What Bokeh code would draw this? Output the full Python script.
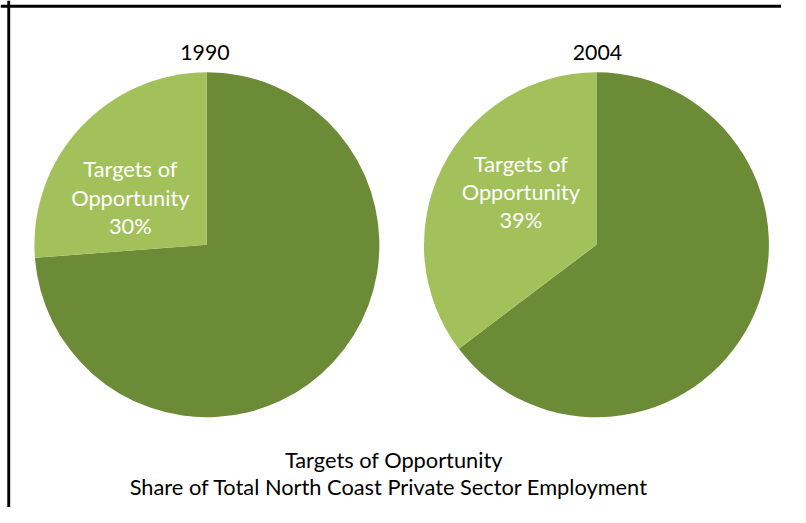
from math import pi
from bokeh.plotting import figure
from bokeh.models import Range1d, Span
from bokeh.core.properties import value
from bokeh.embed import file_html
from bokeh.resources import INLINE

# ---- data ----
years = ["1990", "2004"]
target_share = [0.262, 0.353]          # share drawn as the light "Targets of Opportunity" slice
target_labels = ["30%", "39%"]         # percentages as printed on the chart
label_name = ["Targets of", "Opportunity"]
title_lines = ["Targets of Opportunity",
               "Share of Total North Coast Private Sector Employment"]

LIGHT = "#A3C15A"
DARK = "#6B8B37"
FONT = "Lato"

# reference canvas 806x523, rendered uniformly scaled into 781x507
RW, RH = 806, 523
W, H = 781, 507
S = H / RH

def fs(px):
    return f"{px * S:.1f}px"

p = figure(width=W, height=H, output_backend="svg", toolbar_location=None,
           x_range=Range1d(0, RW), y_range=Range1d(0, RH),
           min_border=0, outline_line_color=None)
p.axis.visible = False
p.grid.visible = False
p.background_fill_color = "white"

def Y(v):  # reference pixel row -> data y
    return RH - v

cx = [213, 615]
cy = [Y(252)] * 2
R = 178

starts_light = [pi / 2 for s in target_share]
ends_light = [pi / 2 + 2 * pi * s for s in target_share]
ends_dark = [pi / 2 + 2 * pi for s in target_share]

p.wedge(x=cx, y=cy, radius=R, start_angle=ends_light, end_angle=ends_dark,
        fill_color=DARK, line_color=None)
p.wedge(x=cx, y=cy, radius=R, start_angle=starts_light, end_angle=ends_light,
        fill_color=LIGHT, line_color=None)

# year titles
p.text(x=[211, 616], y=[Y(54)] * 2, text=years, text_align="center",
       text_baseline="alphabetic", text_font=value(FONT), text_font_size=fs(22),
       text_color="black")

# slice labels
lab_x = [134, 537]
lab_base = [[173, 203, 232], [168, 197, 226]]
for i in range(2):
    lines = label_name + [target_labels[i]]
    p.text(x=[lab_x[i]] * 3, y=[Y(v) for v in lab_base[i]], text=lines,
           text_align="center", text_baseline="alphabetic", text_font=value(FONT),
           text_font_size=fs(22.5), text_color="white")

# bottom title
p.text(x=[406, 401], y=[Y(473), Y(501)], text=title_lines,
       text_align="center", text_baseline="alphabetic", text_font=value(FONT),
       text_font_size=fs(22.5), text_color="black")

# frame lines (top and left)
p.add_layout(Span(location=8.5, dimension="height", line_color="black", line_width=3 * S))
p.add_layout(Span(location=Y(6), dimension="width", line_color="black", line_width=3 * S))

open("out.html", "w").write(file_html(p, INLINE))
